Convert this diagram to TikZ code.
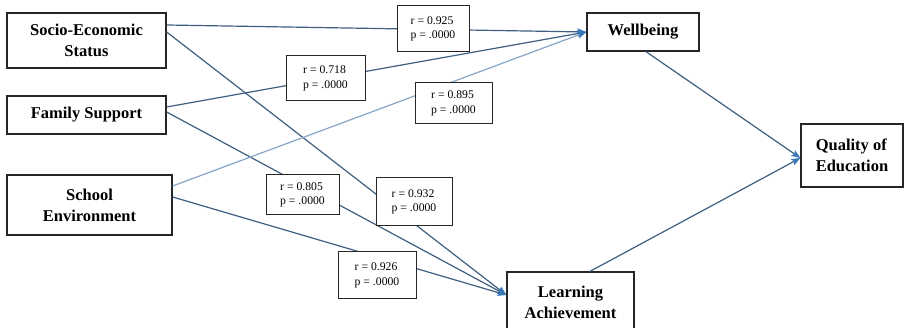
\documentclass[tikz,border=0pt]{standalone}
\usepackage{fontspec}
\setmainfont{Liberation Serif}
\usetikzlibrary{arrows.meta}
\definecolor{linec}{HTML}{3E5F80}
\definecolor{lightc}{HTML}{86A6C4}
\definecolor{tipc}{HTML}{3A78BC}
\begin{document}
\begin{tikzpicture}[x=1pt,y=-1pt,
  mainbox/.style={draw=black!85, line width=1.3pt, fill=white, align=center, inner sep=0pt,
    font=\fontsize{16.5}{21}\selectfont\bfseries},
  labbox/.style={draw=black!85, line width=1pt, fill=white, align=left, inner sep=0pt,
    font=\fontsize{11.7}{14.5}\selectfont},
  conn/.style={draw=linec, line width=1.2pt, -{Stealth[length=9pt,width=7pt,inset=2pt,color=tipc,fill=tipc]}},
  connlight/.style={conn, draw=lightc}
]
\useasboundingbox (0,0) rectangle (904,328);
\clip (0,0) rectangle (904,328);
\fill[white] (0,0) rectangle (904,328);

% main nodes
\node[mainbox, minimum width=159pt, minimum height=55pt] (ses) at (86.5,40.5) {Socio-Economic\\Status};
\node[mainbox, minimum width=159pt, minimum height=38pt] (fs) at (86.5,115) {Family Support};
\node[mainbox, minimum width=165pt, minimum height=60pt] (se) at (89.5,205) {School\\Environment};
\node[mainbox, minimum width=112pt, minimum height=38pt] (wb) at (643,32) {Wellbeing};
\node[mainbox, align=left, minimum width=102pt, minimum height=63pt] (qoe) at (852,155.5) {Quality of\\Education};
\node[mainbox, minimum width=127pt, minimum height=61pt] (la) at (570.5,302.5) {Learning\\Achievement};

% connectors
\draw[conn] ([yshift=15.5pt]ses.east) -- (wb.west);
\draw[conn] ([yshift=8.5pt]ses.east) -- ([yshift=7.5pt]la.west);
\draw[conn] ([yshift=8pt]fs.east) -- (wb.west);
\draw[conn] ([yshift=3pt]fs.east) -- ([yshift=7.5pt]la.west);
\draw[connlight] ([yshift=19pt]se.east) -- (wb.west);
\draw[conn] ([yshift=8pt]se.east) -- ([yshift=7.5pt]la.west);
\draw[conn] ([xshift=3pt]wb.south) -- ([yshift=-2.5pt]qoe.west);
\draw[conn] ([xshift=19.5pt]la.north) -- ([yshift=-2.5pt]qoe.west);

% label boxes
\node[labbox, minimum width=72pt, minimum height=46pt] (l925) at (433,29) {r = 0.925\\p = .0000};
\node[labbox, minimum width=79pt, minimum height=45pt] (l718) at (325.5,78.5) {r = 0.718\\p = .0000};
\node[labbox, minimum width=77pt, minimum height=41pt] (l895) at (453.5,103.5) {r = 0.895\\p = .0000};
\node[labbox, minimum width=73pt, minimum height=40pt] (l805) at (302.5,195) {r = 0.805\\p = .0000};
\node[labbox, minimum width=76pt, minimum height=48pt] (l932) at (414,202) {r = 0.932\\p = .0000};
\node[labbox, minimum width=78pt, minimum height=47pt] (l926) at (377,275.5) {r = 0.926\\p = .0000};
\end{tikzpicture}
\end{document}
